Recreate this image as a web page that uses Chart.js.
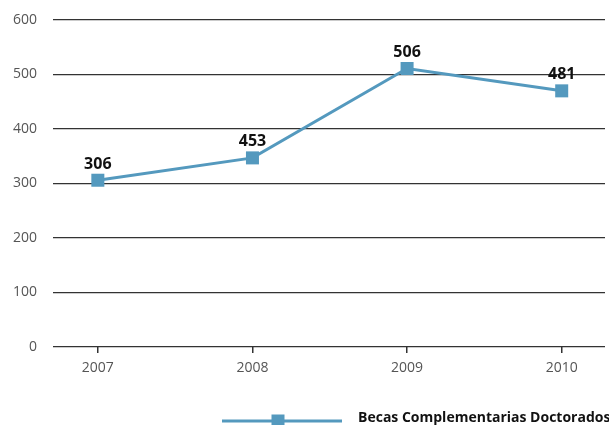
<!DOCTYPE html>
<html>
<head>
<meta charset="utf-8">
<script src="https://cdn.jsdelivr.net/npm/chart.js@4/dist/chart.umd.min.js"></script>
<style>
  html, body { margin: 0; padding: 0; background: #fff; }
  #wrap { width: 609px; height: 425px; position: relative; }
</style>
</head>
<body>
<div id="wrap"><canvas id="c"></canvas></div>
<script>
// Datos
const years = [2007, 2008, 2009, 2010];
const becas = [306, 347, 511, 470];          // posición dibujada de cada punto
const pointLabels = ['306', '453', '506', '481']; // etiquetas impresas sobre los puntos
const yTicks = [0, 100, 200, 300, 400, 500, 600];

const SERIES = 'Becas Complementarias Doctorados';
const BLUE = '#5499be';
const FONT = "'Open Sans', 'Noto Sans', sans-serif";

// etiquetas en negrita sobre cada punto
const valueLabels = {
  id: 'valueLabels',
  afterDatasetsDraw(chart) {
    const { ctx } = chart;
    const meta = chart.getDatasetMeta(0);
    ctx.save();
    ctx.font = `bold 16px ${FONT}`;
    ctx.fillStyle = '#111';
    ctx.textAlign = 'center';
    ctx.textBaseline = 'bottom';
    meta.data.forEach((p, i) => ctx.fillText(pointLabels[i], p.x, p.y - 8));
    ctx.restore();
  },
};

// leyenda: línea + marcador + texto
const legendLine = {
  id: 'legendLine',
  afterDraw(chart) {
    const { ctx } = chart;
    const y = 421;
    ctx.save();
    ctx.strokeStyle = BLUE;
    ctx.lineWidth = 3;
    ctx.beginPath();
    ctx.moveTo(222, y);
    ctx.lineTo(342, y);
    ctx.stroke();
    ctx.fillStyle = BLUE;
    ctx.fillRect(278 - 6.5, y - 6.5, 13, 13);
    ctx.font = `bold 14px ${FONT}`;
    ctx.fillStyle = '#111';
    ctx.textAlign = 'left';
    ctx.textBaseline = 'middle';
    ctx.fillText(SERIES, 358, y - 3);
    ctx.restore();
  },
};

const noPad = s => { s.paddingTop = 0; s.paddingBottom = 0; s.paddingLeft = 0; s.paddingRight = 0; };

new Chart(document.getElementById('c'), {
  type: 'line',
  data: {
    datasets: [{
      label: SERIES,
      data: years.map((x, i) => ({ x, y: becas[i] })),
      borderColor: BLUE,
      backgroundColor: BLUE,
      borderWidth: 3,
      tension: 0,
      pointStyle: 'rect',
      pointRadius: 9.2,
      pointHoverRadius: 9.2,
      pointBorderWidth: 0,
      pointBackgroundColor: BLUE,
    }],
  },
  options: {
    responsive: true, maintainAspectRatio: false,
    animation: false,
    layout: { autoPadding: false, padding: { top: 20, right: 4, bottom: 38, left: 0 } },
    plugins: { legend: { display: false }, tooltip: { enabled: false } },
    scales: {
      x: {
        type: 'linear',
        min: 2006.71, max: 2010.28,
        afterBuildTicks: s => { s.ticks = years.map(v => ({ value: v })); },
        afterFit: s => { s.height = 40; noPad(s); },
        border: { display: false },
        grid: { drawOnChartArea: false, drawTicks: true, tickLength: 6, color: '#333', lineWidth: 1.5 },
        ticks: {
          color: '#555', font: { family: FONT, size: 14 }, padding: 7,
          callback: v => String(v),
        },
      },
      y: {
        min: 0, max: 600,
        afterBuildTicks: s => { s.ticks = yTicks.map(v => ({ value: v })); },
        afterFit: s => { s.width = 53; noPad(s); },
        border: { display: false },
        grid: { color: '#333', lineWidth: 1.3, drawTicks: false },
        ticks: { color: '#555', font: { family: FONT, size: 14 }, padding: 16 },
      },
    },
  },
  plugins: [valueLabels, legendLine],
});
</script>
</body>
</html>
